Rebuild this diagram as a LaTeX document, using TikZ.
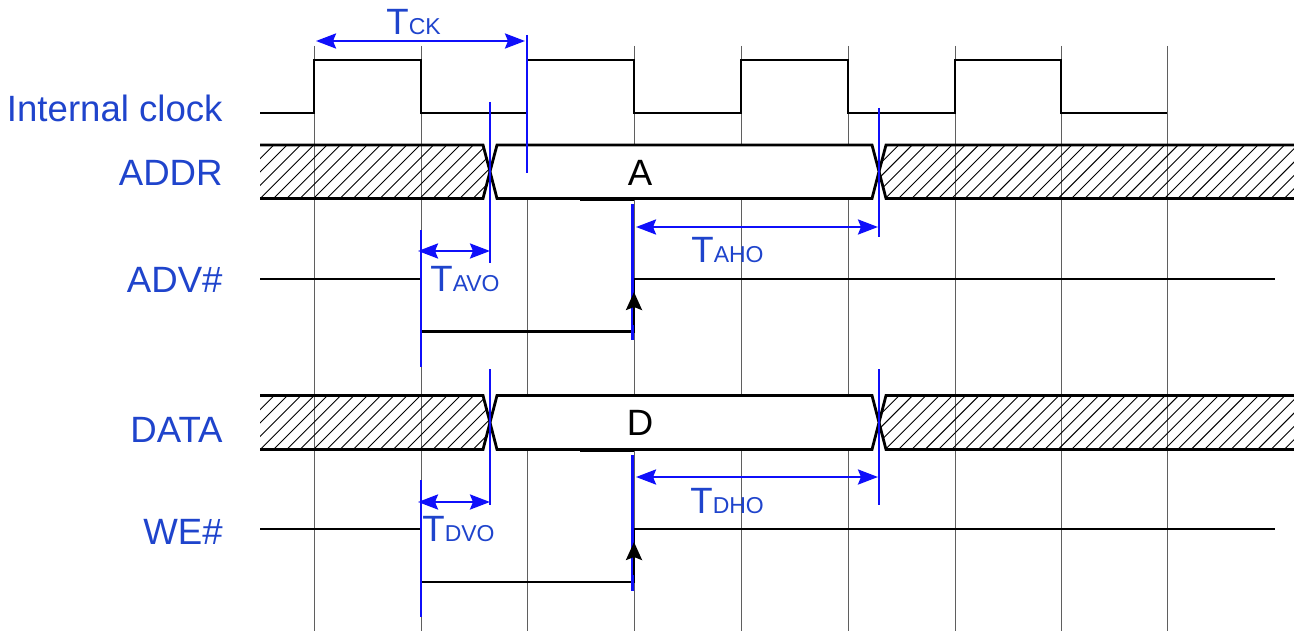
\documentclass[tikz,border=0pt]{standalone}
\usepackage{fontspec}
\setmainfont{Liberation Sans}
\usetikzlibrary{arrows.meta}
\definecolor{lblue}{RGB}{31,68,204}
\definecolor{mblue}{RGB}{15,15,250}
\definecolor{gridgray}{RGB}{95,95,95}
\newcommand\timsub[1]{{\fontsize{11.5}{13}\selectfont #1}}
\tikzset{
  sig/.style={line width=1.4pt, black},
  gridln/.style={line width=0.45pt, gridgray},
  marker/.style={line width=1.3pt, mblue},
  dimarrow/.style={line width=1.3pt, mblue, {Stealth[length=10pt,width=7.5pt,inset=1.5pt]}-{Stealth[length=10pt,width=7.5pt,inset=1.5pt]}},
  uparrow/.style={line width=1.3pt, black, -{Stealth[length=9pt,width=8pt,inset=1.5pt]}},
  lbl/.style={font=\fontsize{18.3}{20}\selectfont, text=lblue, inner sep=0pt, anchor=base east},
  tlbl/.style={font=\fontsize{18.3}{20}\selectfont, text=lblue, inner sep=0pt, anchor=base west},
  buslbl/.style={font=\fontsize{18.3}{20}\selectfont, text=black, inner sep=0pt, anchor=base},
  hatchln/.style={line width=0.45pt, black},
}
\begin{document}
\begin{tikzpicture}[x=0.5pt,y=-0.5pt]
\useasboundingbox (0,0) rectangle (1294,631);

% grid lines
\foreach \gx in {314,421,527,634,741,848,955,1061,1167}
  \draw[gridln] (\gx,46) -- (\gx,631);

% signal labels
\node[lbl] (lclk) at (223,121) {Internal clock};
\node[lbl] (laddr) at (223,185) {ADDR};
\node[lbl] (ladv) at (223,292) {ADV\#};
\node[lbl] (ldata) at (223,442) {DATA};
\node[lbl] (lwe) at (223,544) {WE\#};

% internal clock
\draw[sig] (260,113) -- (314,113) -- (314,60) -- (421,60) -- (421,113) -- (527,113)
  -- (527,60) -- (634,60) -- (634,113) -- (741,113) -- (741,60) -- (848,60) -- (848,113)
  -- (955,113) -- (955,60) -- (1061,60) -- (1061,113) -- (1167,113);

% buses (top y, crossing y, bottom y)
\foreach \ty/\my/\by in {145/171.5/198.5, 395.5/422.5/449.5} {
  \begin{scope}
    \clip (260,\ty) -- (483,\ty) -- (490,\my) -- (483,\by) -- (260,\by) -- cycle;
    \foreach \i in {0,...,22} \draw[hatchln] ({205+13.3*\i},\by+2) -- ++(60,-60);
  \end{scope}
  \begin{scope}
    \clip (1294,\ty) -- (886,\ty) -- (879,\my) -- (886,\by) -- (1294,\by) -- cycle;
    \foreach \i in {0,...,34} \draw[hatchln] ({830+13.3*\i},\by+2) -- ++(60,-60);
  \end{scope}
  \draw[sig] (260,\ty) -- (483,\ty) -- (490,\my) -- (483,\by) -- (260,\by);
  \draw[sig] (1294,\ty) -- (886,\ty) -- (879,\my) -- (886,\by) -- (1294,\by);
  \draw[sig, fill=white] (497,\ty) -- (872,\ty) -- (879,\my) -- (872,\by) -- (497,\by) -- (490,\my) -- cycle;
  \draw[sig] (580,\by+1.2) -- (634,\by+1.2);
}
\node[buslbl] (va) at (640,185) {A};
\node[buslbl] (vd) at (640,435) {D};

% ADV# and WE#
\foreach \hy/\ly in {279/331.5, 529/582} {
  \draw[sig] (260,\hy) -- (421,\hy) -- (421,\ly) -- (634,\ly) -- (634,\hy) -- (1275,\hy);
}

% blue markers
\draw[marker] (527,35) -- (527,173);
\draw[marker] (490,102) -- (490,263);
\draw[marker] (421,230) -- (421,367);
\draw[marker] (632.5,204) -- (632.5,340);
\draw[marker] (879,108) -- (879,237);
\draw[marker] (490,369) -- (490,505);
\draw[marker] (421,480) -- (421,617);
\draw[marker] (632.5,455) -- (632.5,591);
\draw[marker] (879,369) -- (879,505);

% black up arrows on the rising edges
\draw[uparrow] (634,325) -- (634,292);
\draw[uparrow] (634,575) -- (634,542);

% dimension arrows
\coordinate (ck1) at (316,41);  \coordinate (ck2) at (525,41);
\coordinate (av1) at (418,251); \coordinate (av2) at (490,251);
\coordinate (ah1) at (636,227); \coordinate (ah2) at (878,227);
\coordinate (dv1) at (418,502); \coordinate (dv2) at (490,502);
\coordinate (dh1) at (636,477); \coordinate (dh2) at (878,477);
\draw[dimarrow] (ck1) -- (ck2);
\draw[dimarrow] (av1) -- (av2);
\draw[dimarrow] (ah1) -- (ah2);
\draw[dimarrow] (dv1) -- (dv2);
\draw[dimarrow] (dh1) -- (dh2);

\node[tlbl] (tck) at (386,35) {T\timsub{CK}};
\node[tlbl] (tavo) at (430,291.5) {T\timsub{AVO}};
\node[tlbl] (taho) at (691,262.5) {T\timsub{AHO}};
\node[tlbl] (tdvo) at (422,541) {T\timsub{DVO}};
\node[tlbl] (tdho) at (690,513) {T\timsub{DHO}};
\end{tikzpicture}
\end{document}
